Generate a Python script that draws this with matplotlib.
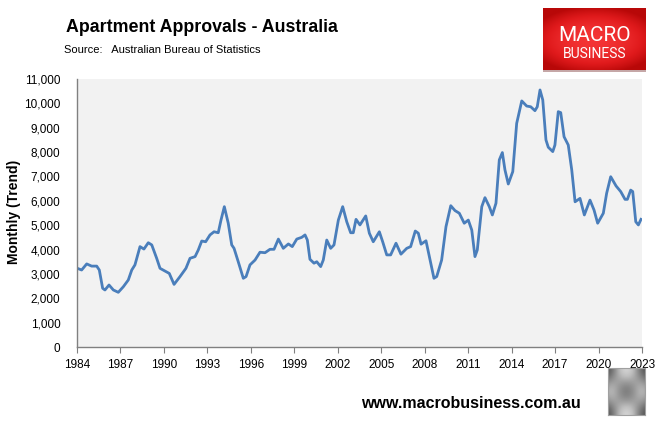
import matplotlib.pyplot as plt
import numpy as np
from matplotlib.ticker import FuncFormatter
from matplotlib.colors import LinearSegmentedColormap

# monthly apartment approvals (trend)
years = [1984.02, 1984.32, 1984.67, 1985.01, 1985.36, 1985.54, 1985.77, 1985.93,
         1986.21, 1986.51, 1986.85, 1987.20, 1987.54, 1987.78, 1988.00, 1988.35,
         1988.62, 1988.92, 1989.16, 1989.50, 1989.73, 1990.07, 1990.37, 1990.70,
         1991.11, 1991.52, 1991.80, 1992.15, 1992.37, 1992.61, 1992.88, 1993.18,
         1993.46, 1993.75, 1993.94, 1994.17, 1994.44, 1994.68, 1994.84, 1995.13,
         1995.48, 1995.67, 1995.94, 1996.29, 1996.63, 1996.98, 1997.32, 1997.60,
         1997.90, 1998.24, 1998.59, 1998.86, 1999.17, 1999.51, 1999.74, 1999.90,
         2000.08, 2000.36, 2000.55, 2000.82, 2001.00, 2001.24, 2001.51, 2001.74,
         2002.04, 2002.34, 2002.62, 2002.89, 2003.07, 2003.26, 2003.53, 2003.93,
         2004.18, 2004.45, 2004.87, 2005.10, 2005.38, 2005.65, 2006.02, 2006.36,
         2006.76, 2007.03, 2007.35, 2007.56, 2007.75, 2008.09, 2008.37, 2008.64,
         2008.83, 2009.17, 2009.47, 2009.80, 2010.09, 2010.39, 2010.73, 2011.01,
         2011.25, 2011.47, 2011.63, 2011.94, 2012.16, 2012.46, 2012.67, 2012.92,
         2013.15, 2013.36, 2013.54, 2013.77, 2014.08, 2014.35, 2014.70, 2015.04,
         2015.32, 2015.61, 2015.77, 2015.96, 2016.15, 2016.37, 2016.53, 2016.84,
         2016.99, 2017.22, 2017.39, 2017.62, 2017.91, 2018.15, 2018.38, 2018.72,
         2019.02, 2019.41, 2019.69, 2019.94, 2020.33, 2020.56, 2020.84, 2021.21,
         2021.53, 2021.83, 2021.99, 2022.22, 2022.36, 2022.57, 2022.75, 2022.93]
approvals = [3230, 3160, 3410, 3320, 3320, 3160, 2410, 2340,
             2545, 2340, 2245, 2475, 2750, 3160, 3370, 4120,
             4020, 4280, 4190, 3640, 3230, 3120, 3020, 2570,
             2890, 3230, 3640, 3710, 3980, 4350, 4320, 4600,
             4730, 4690, 5210, 5760, 5080, 4190, 4050, 3500,
             2820, 2890, 3370, 3570, 3890, 3870, 4010, 4010,
             4430, 4050, 4230, 4120, 4430, 4500, 4600, 4390,
             3600, 3440, 3500, 3300, 3570, 4390, 4050, 4190,
             5210, 5760, 5140, 4690, 4690, 5240, 5010, 5380,
             4670, 4320, 4730, 4320, 3780, 3780, 4260, 3810,
             4050, 4120, 4760, 4670, 4220, 4360, 3570, 2820,
             2890, 3570, 4940, 5800, 5600, 5490, 5080, 5210,
             4800, 3710, 3980, 5760, 6130, 5760, 5420, 5900,
             7680, 7980, 7270, 6690, 7200, 9180, 10100, 9890,
             9860, 9700, 9860, 10550, 10140, 8500, 8200, 8020,
             8290, 9660, 9620, 8630, 8290, 7270, 5960, 6100,
             5420, 6030, 5620, 5080, 5490, 6310, 6990, 6610,
             6380, 6060, 6060, 6440, 6380, 5140, 5010, 5240]
x_ticks = list(range(1984, 2024, 3))

fig = plt.figure(figsize=(6.59, 4.21), dpi=100)
plt.rcParams['font.family'] = ['Liberation Sans', 'DejaVu Sans']

ax = fig.add_axes([77 / 659, 74 / 421, 565 / 659, 268 / 421])
ax.set_facecolor('#F2F2F2')
ax.plot(years, approvals, color='#4A7EBB', lw=2.0, solid_joinstyle='round')

ax.set_xlim(1984, 2023)
ax.set_ylim(0, 11000)
ax.set_xticks(x_ticks)
ax.set_yticks(range(0, 11001, 1000))
ax.yaxis.set_major_formatter(FuncFormatter(lambda v, p: f'{int(v):,}'))
ax.tick_params(axis='x', length=4, width=0.8, color='#808080', labelsize=8.5, pad=5)
ax.tick_params(axis='y', length=0, labelsize=8.5, pad=12)
for s in ['top', 'right']:
    ax.spines[s].set_visible(False)
for s in ['left', 'bottom']:
    ax.spines[s].set_color('#808080')
    ax.spines[s].set_linewidth(1.0)

fig.text(14 / 659, 1 - 212 / 421, 'Monthly (Trend)', rotation=90, fontsize=10,
         fontweight='bold', ha='center', va='center')

fig.text(66 / 659, 1 - 27 / 421, 'Apartment Approvals - Australia', fontsize=12.8,
         fontweight='bold', ha='left', va='center')
fig.text(64 / 659, 1 - 50 / 421, 'Source:   Australian Bureau of Statistics',
         fontsize=8, ha='left', va='center')

# MacroBusiness logo box
red_map = LinearSegmentedColormap.from_list('logo', ['#B80808', '#E01A1C', '#F43435'])
logo = fig.add_axes([543 / 659, 1 - 72 / 421, 103 / 659, 64 / 421])
gx, gy = np.meshgrid(np.linspace(-1, 1, 200), np.linspace(-1, 1, 120))
glow = 1 - np.clip(0.6 * gx ** 2 + 0.9 * gy ** 2, 0, 1)
logo.imshow(glow, cmap=red_map, vmin=0, vmax=1, aspect='auto', extent=[0, 1, 0, 1])
logo.axhline(0.015, color='#C8C8C8', lw=1.2)
logo.set_xlim(0, 1)
logo.set_ylim(0, 1)
logo.axis('off')
logo.text(0.5, 0.57, 'MACRO', color='white', fontsize=15, ha='center',
          va='center', family='Roboto')
logo.text(0.5, 0.28, 'BUSINESS', color='white', fontsize=10, ha='center',
          va='center', family='Roboto')

fig.text(471 / 659, 1 - 404 / 421, 'www.macrobusiness.com.au', fontsize=11.5,
         fontweight='bold', ha='center', va='center')

# small wolf badge placeholder
badge = fig.add_axes([608 / 659, 1 - 415 / 421, 37 / 659, 47 / 421])
bx, by = np.meshgrid(np.linspace(-1, 1, 40), np.linspace(-1, 1, 50))
badge.imshow(np.cos(3 * bx) * np.cos(3 * by) + bx ** 2, cmap='Greys', vmin=-3, vmax=4,
             aspect='auto')
badge.set_xticks([])
badge.set_yticks([])
for s in badge.spines.values():
    s.set_color('#A0A0A0')

fig.savefig('out.png', dpi=100)
